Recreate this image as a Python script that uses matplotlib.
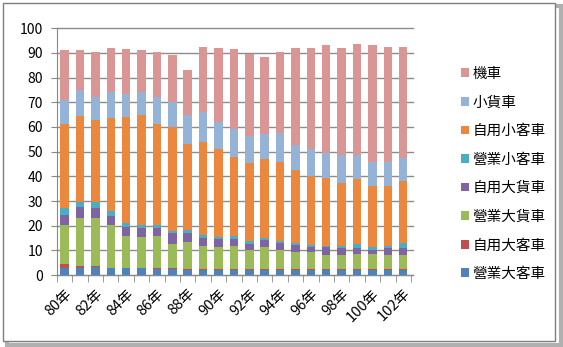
import numpy as np
import matplotlib
matplotlib.use("Agg")
import matplotlib.pyplot as plt
from matplotlib.patches import Rectangle

plt.rcParams['font.family'] = ['Noto Sans CJK TC', 'DejaVu Sans']

years = list(range(80, 103))
tick_labels = [f"{y}年" for y in years]

# segment values per series, bottom to top
bus_business = [3, 3, 3.2, 2.8, 2.8, 2.8, 2.5, 2.5, 2.2, 2.2, 2.2, 2.2, 2, 2, 2, 2, 2, 2, 2, 2, 2, 2, 2]
bus_private = [1.5, 0.8, 0.4, 0.3, 0.3, 0.3, 0.3, 0.3, 0.3, 0.3, 0.3, 0.3, 0.3, 0.3, 0.3, 0.3, 0.3, 0.3, 0.3, 0.3, 0.3, 0.3, 0.3]
truck_business = [16, 19.2, 19.4, 17.4, 12.9, 12.4, 13.2, 9.7, 11, 9.5, 9, 9.5, 7.7, 8.9, 7.7, 7, 7, 5.7, 5.7, 6.2, 6.2, 5.9, 5.7]
truck_private = [4, 4.5, 4, 3.5, 3.5, 3.5, 3, 4.5, 3.5, 3, 3, 2.8, 2.8, 3, 3, 3, 2, 3.2, 2.8, 2.5, 1.5, 2.8, 3]
car_business = [2.5, 2, 2.5, 2, 1.5, 1.5, 1.5, 1, 1.2, 1.3, 1, 1, 1, 1, 1, 0.9, 0.9, 0.8, 1, 1.5, 1.2, 1, 2]
car_private = [34, 35, 33.5, 37.5, 43, 44.5, 40.5, 42, 34.8, 37.7, 35.5, 32.2, 31.7, 31.8, 32, 29.3, 27.8, 27.5, 25.7, 26.5, 24.8, 24, 25]
small_truck = [10, 10.5, 9, 10.5, 9.5, 9, 11, 10, 12, 12, 11, 11, 11, 10, 11.5, 10, 11, 10, 11, 9.5, 10, 10, 9.5]
motorcycle = [20, 16, 18.5, 18, 18, 17, 18.5, 19, 18, 26.5, 30, 32.5, 33, 31.5, 33, 39.5, 41, 43.5, 43.5, 45, 47, 46.5, 45]

series_names = ["營業大客車", "自用大客車", "營業大貨車", "自用大貨車",
                "營業小客車", "自用小客車", "小貨車", "機車"]
series_values = [bus_business, bus_private, truck_business, truck_private,
                 car_business, car_private, small_truck, motorcycle]
colors = ["#4F81BD", "#C0504D", "#9BBB59", "#8064A2",
          "#4BACC6", "#EC873E", "#95B3D7", "#D99694"]

fig = plt.figure(figsize=(5.63, 3.47), dpi=100)

# outer frame with shadow, drawn under the axes
fig.patches.append(Rectangle((0.012, 0.006), 0.984, 0.976, transform=fig.transFigure,
                             facecolor="none", edgecolor="#b0b0b0", linewidth=3, zorder=-2))
fig.patches.append(Rectangle((0.005, 0.018), 0.981, 0.973, transform=fig.transFigure,
                             facecolor="white", edgecolor="#7f7f7f", linewidth=1, zorder=-1))

ax = fig.add_axes([0.101, 0.207, 0.633, 0.712])
ax.set_zorder(2)
ax.patch.set_alpha(0)

x = np.arange(len(years))
bottom = np.zeros(len(years))
handles = []
for name, vals, c in zip(series_names, series_values, colors):
    vals = np.array(vals)
    b = ax.bar(x, vals, bottom=bottom, width=0.55, color=c, label=name,
               edgecolor="none", zorder=3)
    handles.append(b)
    bottom += vals

ax.set_ylim(0, 100)
ax.set_xlim(-0.45, len(years) - 0.35)
ax.set_yticks(range(0, 101, 10))
ax.tick_params(axis='y', labelsize=10, length=4, color="#888888", pad=6)
ax.yaxis.grid(True, color="#8c8c8c", linewidth=1.0, zorder=0)
for gl in ax.get_ygridlines():
    gl.set_clip_on(False)
ax.set_axisbelow(True)

ax.set_xticks(x[::2])
ax.set_xticklabels(tick_labels[::2], rotation=45, ha="right", rotation_mode="anchor", fontsize=10.5)
ax.set_xticks(np.arange(-0.5, len(years), 1), minor=True)
ax.tick_params(axis='x', which='major', length=0, pad=8)
ax.tick_params(axis='x', which='minor', length=5, color="#888888")

for s in ["top", "right"]:
    ax.spines[s].set_visible(False)
ax.spines["left"].set_color("#888888")
ax.spines["bottom"].set_color("#888888")

leg = fig.legend(handles[::-1], series_names[::-1], loc="upper left",
                 bbox_to_anchor=(0.795, 0.845), frameon=False, fontsize=10.5,
                 handlelength=0.55, handleheight=0.55, handletextpad=0.25,
                 labelspacing=1.0)
leg.set_zorder(3)

fig.savefig("out.png", dpi=100)
